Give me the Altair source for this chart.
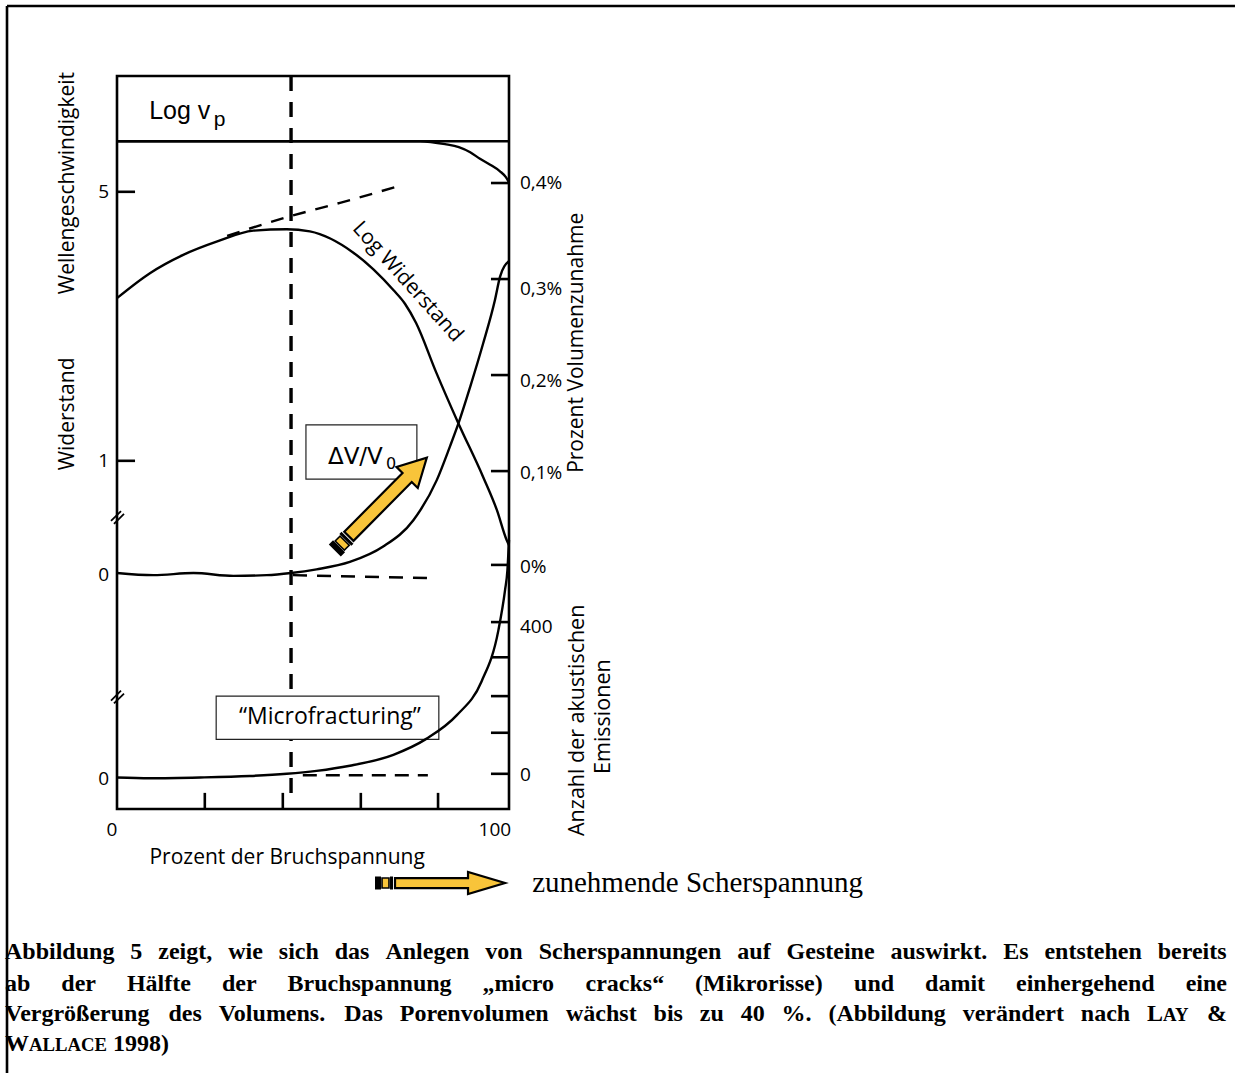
import altair as alt
import pandas as pd

# ---------------- values ----------------
# x : Prozent der Bruchspannung (0 .. 100)
# y : vertical diagram units (0 = lower frame edge, 100 = upper frame edge)

vp_x = [0, 77.3, 83.7, 87.2, 90.1, 92.6, 95.2, 97.7, 99.2, 100]
vp_y = [91.1, 91.1, 90.7, 90.3, 89.6, 88.7, 87.9, 87.0, 86.2, 85.5]

res_x = [0, 8.4, 16.9, 25.4, 34.8, 43.3, 49.2, 60.3, 70.5, 73.5, 76.3, 81.4, 87.1, 93.4, 96.9, 99.4, 100]
res_y = [69.7, 73.1, 75.6, 77.4, 78.9, 79.1, 78.8, 75.9, 70.8, 68.9, 66.3, 59.6, 52.6, 45.3, 40.8, 36.7, 36.0]

res_ext_x = [28.1, 44.4, 56.9, 71.4]
res_ext_y = [78.2, 80.9, 82.7, 84.9]

vol_x = [0, 9.3, 19.5, 29.7, 38.2, 44.4, 50.9, 59.4, 67.9, 75.6, 81.6, 84.9, 87.1, 90.1, 93.4, 96.4, 97.7, 99.9]
vol_y = [32.2, 31.9, 32.2, 31.8, 31.9, 32.2, 32.7, 33.7, 35.8, 39.4, 44.9, 49.4, 52.6, 57.6, 63.5, 69.4, 72.6, 74.7]

vol_ext_x = [44.9, 79.8]
vol_ext_y = [31.9, 31.5]

ae_x = [0, 8.4, 21.2, 33.9, 43.3, 50.9, 59.4, 70.5, 79.0, 86.7, 93.0, 97.3, 99.0, 99.6, 100]
ae_y = [4.3, 4.2, 4.3, 4.5, 4.8, 5.2, 5.9, 7.4, 9.6, 12.8, 17.4, 24.4, 29.9, 32.6, 36.7]

ae_ext_x = [47.4, 79.3]
ae_ext_y = [4.6, 4.6]

onset_x = [44.4]            # dashed vertical line (onset of microfracturing)
panel_sep_y = [91.1]        # lower edge of the Log vp panel

left_tick_y = [84.2, 47.5]
left_label_text = ["5", "1", "0", "0"]
left_label_y = [84.2, 47.5, 31.9, 4.1]
axis_break_y = [40.1, 15.6]

right_tick_y = [85.4, 72.3, 59.2, 46.1, 33.3, 25.5, 20.7, 15.4, 10.4, 4.8]
right_label_text = ["0,4%", "0,3%", "0,2%", "0,1%", "0%", "400", "0"]
right_label_y = [85.4, 70.9, 58.4, 45.8, 33.0, 24.8, 4.6]

bottom_tick_x = [22.4, 42.3, 62.2, 81.9]
bottom_label_text = ["0", "100"]
bottom_label_x = [-1.3, 96.4]

# caption: {...} marks small capitals; the first three lines are justified
caption_lines = [
    "Abbildung 5 zeigt, wie sich das Anlegen von Scherspannungen auf Gesteine auswirkt. Es entstehen bereits",
    "ab der Hälfte der Bruchspannung „micro cracks“ (Mikrorisse) und damit einhergehend eine",
    "Vergrößerung des Volumens. Das Porenvolumen wächst bis zu 40 %. (Abbildung verändert nach L{AY} &",
    "W{ALLACE} 1998)",
]
caption_justified = [True, True, True, False]

# ---------------- layout / style ----------------
SANS = "Open Sans"
ARIAL = "Liberation Sans"
SERIF = "Liberation Serif"
YELLOW = "#F8C43A"
LW = 2.4

# page geometry (used only to lay out the caption text)
FRAME_LEFT_PX, FRAME_BOTTOM_PX, PX_PER_X, PX_PER_Y = 117, 809, 3.92, 7.33
CAP_SIZE, CAP_SMALL = 24, 0.78
CAP_LEFT_PX, CAP_RIGHT_PX = 5, 1227
CAP_BASELINE_PX = [959, 991, 1021, 1051]

# Times bold advance widths (1/1000 em)
TB = {" ": 250, ",": 250, ".": 250, "(": 333, ")": 333, "%": 1000, "&": 833, "„": 500, "“": 500,
      "0": 500, "1": 500, "4": 500, "5": 500, "8": 500, "9": 500,
      "A": 722, "B": 667, "C": 722, "D": 722, "E": 667, "F": 611, "G": 778, "H": 778, "I": 389,
      "K": 778, "L": 667, "M": 944, "N": 722, "O": 778, "P": 611, "R": 722, "S": 556, "T": 667,
      "U": 722, "V": 722, "W": 1000, "Y": 722, "Z": 667,
      "a": 500, "b": 556, "c": 444, "d": 556, "e": 444, "f": 333, "g": 500, "h": 556, "i": 278,
      "j": 333, "k": 556, "l": 278, "m": 833, "n": 556, "o": 500, "p": 556, "q": 556, "r": 444,
      "s": 389, "t": 333, "u": 556, "v": 500, "w": 722, "x": 500, "y": 500, "z": 444,
      "ä": 500, "ö": 500, "ü": 556, "ß": 556}

XS = alt.Scale(domain=[0, 100], nice=False, zero=False)
YS = alt.Scale(domain=[0, 100], nice=False, zero=False)


def xq(f="x"):
    return alt.X(f"{f}:Q", scale=XS, axis=None)


def yq(f="y"):
    return alt.Y(f"{f}:Q", scale=YS, axis=None)


def curve(xs, ys, dash=None, width=LW, interp="monotone"):
    df = pd.DataFrame({"x": xs, "y": ys, "o": list(range(len(xs)))})
    kw = dict(color="black", strokeWidth=width, interpolate=interp, strokeCap="butt")
    if dash:
        kw["strokeDash"] = dash
    return alt.Chart(df).mark_line(**kw).encode(x=xq(), y=yq(), order="o:Q")


def segs(x, x2, y, y2, width=LW, dash=None):
    df = pd.DataFrame({"x": x, "x2": x2, "y": y, "y2": y2})
    kw = dict(color="black", strokeWidth=width, strokeCap="butt")
    if dash:
        kw["strokeDash"] = dash
    return alt.Chart(df).mark_rule(**kw).encode(x=xq(), x2="x2:Q", y=yq(), y2="y2:Q")


def texts(xs, ys, ts, **kw):
    df = pd.DataFrame({"x": xs, "y": ys, "t": ts})
    base = dict(color="black", baseline="middle")
    base.update(kw)
    return alt.Chart(df).mark_text(**base).encode(x=xq(), y=yq(), text="t:N")


def box(x, x2, y, y2):
    df = pd.DataFrame({"x": [x], "x2": [x2], "y": [y], "y2": [y2]})
    return alt.Chart(df).mark_rect(fill="white", stroke="#222", strokeWidth=1.2).encode(
        x=xq(), x2="x2:Q", y=yq(), y2="y2:Q")


def symbol(x, y, path, size, angle, fill, stroke="black", sw=2.0):
    df = pd.DataFrame({"x": [x], "y": [y]})
    kw = dict(shape=path, size=size, filled=True, fill=fill, opacity=1, fillOpacity=1,
              strokeWidth=sw)
    if stroke:
        kw["stroke"] = stroke
        kw["strokeOpacity"] = 1
    if angle:
        kw["angle"] = angle
    return alt.Chart(df).mark_point(**kw).encode(x=xq(), y=yq())


def arrow_layers(x, y, length, angle, head_len, head_hw, shaft_hw):
    # paths in the [-1, 1] box, pointing right
    h = length / 2.0
    hs = 1 - head_len / h
    sh = shaft_hw / h
    hh = head_hw / h
    u = 2.0 / length  # one pixel in path units
    body = (f"M {-1 + 20 * u:.3f} {-sh:.3f} L {hs:.3f} {-sh:.3f} L {hs:.3f} {-hh:.3f} L 1 0 "
            f"L {hs:.3f} {hh:.3f} L {hs:.3f} {sh:.3f} L {-1 + 20 * u:.3f} {sh:.3f} Z")
    t = sh * 1.3
    blk = (f"M -1 {-t:.3f} L {-1 + 6 * u:.3f} {-t:.3f} L {-1 + 6 * u:.3f} {t:.3f} L -1 {t:.3f} Z "
           f"M {-1 + 15 * u:.3f} {-t:.3f} L {-1 + 18 * u:.3f} {-t:.3f} "
           f"L {-1 + 18 * u:.3f} {t:.3f} L {-1 + 15 * u:.3f} {t:.3f} Z")
    sq = (f"M {-1 + 7 * u:.3f} {-sh:.3f} L {-1 + 14 * u:.3f} {-sh:.3f} "
          f"L {-1 + 14 * u:.3f} {sh:.3f} L {-1 + 7 * u:.3f} {sh:.3f} Z")
    size = length * length
    return [
        symbol(x, y, body, size, angle, YELLOW, "black", 2.2),
        symbol(x, y, blk, size, angle, "black", None, 0),
        symbol(x, y, sq, size, angle, YELLOW, "black", 1.6),
    ]


def parse_word(word):
    runs, buf, small = [], "", False
    for ch in word:
        if ch in "{}":
            if buf:
                runs.append((buf, small))
            buf, small = "", ch == "{"
        else:
            buf += ch
    if buf:
        runs.append((buf, small))
    return runs


def run_width(text, small):
    s = CAP_SIZE * (CAP_SMALL if small else 1)
    return sum(TB.get(c, 500) for c in text) / 1000.0 * s


def caption_layers():
    rows = {False: [], True: []}
    for line, just, base_px in zip(caption_lines, caption_justified, CAP_BASELINE_PX):
        words = [parse_word(w) for w in line.split(" ")]
        widths = [sum(run_width(t, sm) for t, sm in w) for w in words]
        space = TB[" "] / 1000.0 * CAP_SIZE
        if just and len(words) > 1:
            space = (CAP_RIGHT_PX - CAP_LEFT_PX - sum(widths)) / (len(words) - 1)
        px = CAP_LEFT_PX
        for w, wd in zip(words, widths):
            rx = px
            for t, sm in w:
                rows[sm].append(((rx - FRAME_LEFT_PX) / PX_PER_X, (FRAME_BOTTOM_PX - base_px) / PX_PER_Y, t))
                rx += run_width(t, sm)
            px += wd + space
    out = []
    for sm, r in rows.items():
        if r:
            out.append(texts([a for a, _, _ in r], [b for _, b, _ in r], [c for _, _, c in r], font=SERIF,
                             fontSize=CAP_SIZE * (CAP_SMALL if sm else 1), fontWeight="bold", align="left",
                             baseline="alphabetic"))
    return out


layers = []

# outer frame (top and left edges of the figure box)
layers.append(segs([-28.06], [285.2], [109.55], [109.55], width=2.6))
layers.append(segs([-28.06], [-28.06], [109.55], [-36.0], width=2.6))

# panel separator and dashed onset line
layers.append(segs([0], [100], panel_sep_y, panel_sep_y))
layers.append(segs(onset_x, onset_x, [100], [1.2], width=3.4, dash=[15, 11]))

# label boxes (white, hide the dashed line)
layers.append(box(48.2, 76.5, 52.4, 45.0))
layers.append(box(25.3, 82.1, 15.4, 9.5))

# curves
layers.append(curve(vp_x, vp_y))
layers.append(curve(res_x, res_y))
layers.append(curve(res_ext_x, res_ext_y, dash=[13, 10]))
layers.append(curve(vol_x, vol_y))
layers.append(curve(vol_ext_x, vol_ext_y, dash=[14, 10], interp="linear"))
layers.append(curve(ae_x, ae_y))
layers.append(curve(ae_ext_x, ae_ext_y, dash=[14, 9], interp="linear"))

# ticks
layers.append(segs([0] * len(left_tick_y), [4.6] * len(left_tick_y), left_tick_y, left_tick_y, width=2.6))
layers.append(segs([95.4] * len(right_tick_y), [100] * len(right_tick_y), right_tick_y, right_tick_y, width=2.6))
layers.append(segs(bottom_tick_x, bottom_tick_x, [0] * len(bottom_tick_x), [2.2] * len(bottom_tick_x), width=2.6))

# axis break marks
bx, bx2, by, by2 = [], [], [], []
for c in axis_break_y:
    bx += [-1.53, -0.77]
    bx2 += [1.02, 1.79]
    by += [c - 0.8, c - 1.2]
    by2 += [c + 0.55, c + 0.15]
layers.append(segs(bx, bx2, by, by2, width=1.8))

# arrows
layers += arrow_layers(67.3, 41.6, 130.8, 314.7, head_len=28, head_hw=15, shaft_hw=6.5)
layers += arrow_layers(82.4, -10.1, 130.0, 0, head_len=37, head_hw=11, shaft_hw=5)

# tick labels
layers.append(texts([-2.0] * 4, left_label_y, left_label_text, font=SANS, fontSize=19, align="right"))
layers.append(texts([102.8] * len(right_label_y), right_label_y, right_label_text, font=SANS, fontSize=19,
                    align="left"))
layers.append(texts(bottom_label_x, [-2.9, -2.9], bottom_label_text, font=SANS, fontSize=19, align="center"))

# axis titles
layers.append(texts([43.4], [-6.7], ["Prozent der Bruchspannung"], font=SANS, fontSize=21, align="center"))
layers.append(texts([-12.5, -12.5], [85.4, 53.9], ["Wellengeschwindigkeit", "Widerstand"], font=SANS,
                    fontSize=21, align="center", angle=270))
layers.append(texts([117.3], [63.6], ["Prozent Volumenzunahme"], font=SANS, fontSize=21, align="center",
                    angle=270))
layers.append(texts([117.6, 124.2], [12.1, 12.6], ["Anzahl der akustischen", "Emissionen"], font=SANS,
                    fontSize=21.5, align="center", angle=270))

# in-plot labels
layers.append(texts([8.2], [94.1], ["Log v"], font=ARIAL, fontSize=25, align="left", baseline="alphabetic"))
layers.append(texts([24.7], [93.2], ["p"], font=ARIAL, fontSize=21, align="left", baseline="alphabetic"))
layers.append(texts([74.1], [71.9], ["Log Widerstand"], font=SANS, fontSize=21, align="center", angle=48))
layers.append(texts([53.8], [48.0], ["ΔV/V"], font="DejaVu Sans", fontSize=23, align="left"))
layers.append(texts([68.6], [47.0], ["0"], font="DejaVu Sans", fontSize=16, align="left"))
layers.append(texts([54.3], [12.6], ["“Microfracturing”"], font=SANS, fontSize=23, align="center"))

layers.append(texts([105.9], [-10.1], ["zunehmende Scherspannung"], font=SERIF, fontSize=29, align="left"))

# caption
layers += caption_layers()

chart = alt.layer(*layers).properties(
    width=392,
    height=733,
    padding={"left": 117, "top": 76, "right": 726, "bottom": 264},
    autosize=alt.AutoSizeParams(type="none"),
    background="white",
).configure_view(stroke="black", strokeWidth=2.6)

chart.save("out.html", embed_options={"renderer": "svg", "actions": False})
